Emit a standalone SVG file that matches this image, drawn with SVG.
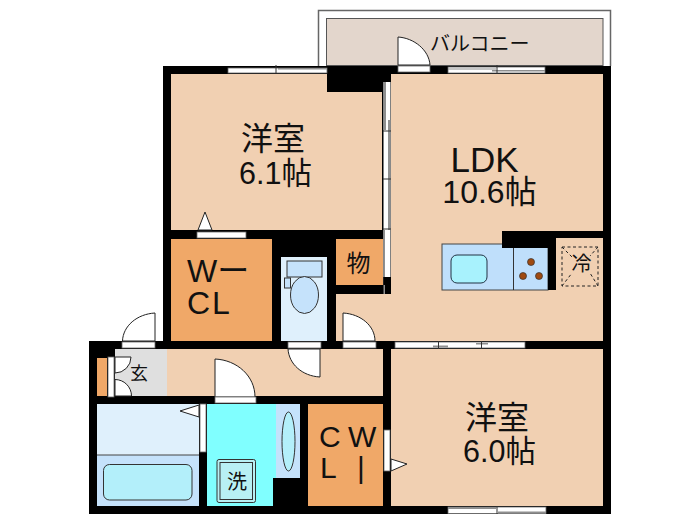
<svg xmlns="http://www.w3.org/2000/svg" width="700" height="525" viewBox="0 0 700 525">
<defs><style>
.t{font-family:"Liberation Sans","Noto Sans CJK JP",sans-serif;fill:#111}
.j{font-family:"Noto Sans CJK JP",sans-serif;fill:#111}
.wh{fill:#fff;stroke:#666;stroke-width:.8}
.d{fill:#fff;stroke:#222;stroke-width:1}
.room{fill:#f1d0b2}
.org{fill:#f0a868}
.blue{fill:#c5e2fb;stroke:#333;stroke-width:1}
.tick{stroke:#333;stroke-width:1;fill:none}
.gr{fill:#8f8f8f}
</style></defs>
<rect width="700" height="525" fill="#fff"/>
<g id="balcony">
<path d="M318.500 66V10.500H610.500V66" fill="none" stroke="#666" stroke-width="1.500"/>
<rect x="326.500" y="18.500" width="276.500" height="47" fill="#e3d6cc" stroke="#555"/>
</g>
<g id="walls">
<path d="M163 66H611V514H89V341H163Z" fill="#000"/>
</g>
<g id="room-west-top"><rect class="room" x="171" y="74" width="211" height="156"/><rect x="327" y="74" width="55" height="18" fill="#000"/></g>
<g id="ldk"><path class="room" d="M391 74H603V341H336V294H391Z"/></g>
<g id="wcl"><rect class="org" x="171" y="239" width="101" height="102"/></g>
<g id="toilet"><rect x="281" y="257" width="46" height="84" fill="#dff0fc"/>
<rect class="blue" x="287" y="261" width="35" height="16"/><rect class="blue" x="284.500" y="278" width="6" height="10"/><ellipse class="blue" cx="304.500" cy="295" rx="14" ry="18.500"/></g>
<g id="storage"><rect class="org" x="336" y="239" width="47" height="46"/></g>
<g id="hall"><rect class="room" x="167" y="349" width="216" height="47"/></g>
<g id="genkan"><rect x="115" y="349" width="52" height="47" fill="#dfdfdf"/><rect class="org" x="97" y="358" width="10" height="38"/></g>
<g id="bath"><rect x="97" y="404" width="102" height="51" fill="#dff0fc"/><rect x="97" y="455" width="102" height="51" fill="#c5e2fb"/><path d="M97 455H199" stroke="#444"/>
<rect x="103.500" y="464.500" width="88.500" height="35.500" rx="6" fill="#b3effa" stroke="#333"/></g>
<g id="washroom"><path d="M207 404H276V478H273V506H207Z" fill="#80ffff"/>
<rect x="217" y="459.500" width="38.500" height="43" rx="2" fill="#b8f0f4" stroke="#333"/><rect x="220" y="462.500" width="32.500" height="37" fill="#b8f0f4" stroke="#333"/></g>
<g id="basin"><rect x="276" y="404" width="24" height="74" fill="#c5e2fb"/><ellipse cx="288.500" cy="441.500" rx="6.500" ry="29.500" fill="#b3effa" stroke="#333"/></g>
<g id="cwl"><rect class="org" x="308" y="404" width="75" height="102"/></g>
<g id="room-east-bottom"><rect class="room" x="391" y="349" width="212" height="157"/></g>
<g id="kitchen">
<rect x="442" y="244" width="106" height="46" fill="#bfdffb" stroke="#444"/>
<rect x="502" y="231" width="101" height="7" fill="#000"/><rect x="502" y="231" width="54" height="17" fill="#000"/><rect x="548" y="238" width="8" height="52" fill="#000"/>
<path d="M513.500 248V290" stroke="#333"/>
<rect x="451" y="255" width="36" height="28" rx="6" fill="#a8f2fd" stroke="#234"/>
<circle cx="531" cy="262" r="3.500" fill="#a04a10" stroke="#333" stroke-width=".7"/><circle cx="523" cy="276" r="3.500" fill="#a04a10" stroke="#333" stroke-width=".7"/><circle cx="539" cy="276" r="3.500" fill="#a04a10" stroke="#333" stroke-width=".7"/>
<rect x="562" y="247" width="36" height="39" fill="none" stroke="#222" stroke-dasharray="3 2.500"/>
<path d="M562 247L572 257M598 247L590 256M562 286L572 273M598 286L590 273" stroke="#222" stroke-dasharray="3 2.500" fill="none"/>
</g>
<g id="connectors">
<rect class="wh" x="197" y="232" width="49" height="6"/>
<path class="d" d="M198 230L205 212L212 230Z"/>
<path class="d" d="M155 313V341H122.500C123 326 137 314 155 313Z"/><rect class="wh" x="122" y="342" width="33" height="6"/>
<path class="d" d="M343 313V341H375C375 326 361 314 343 313Z"/><rect class="wh" x="343" y="342" width="33" height="6"/>
<path class="d" d="M320 377V349H288C289 364 302 376 320 377Z"/><rect class="wh" x="288" y="342" width="33" height="6"/>
<path class="d" d="M215 359V397H255C255 376 237 360 215 359Z"/><rect class="wh" x="215" y="397" width="41" height="6"/>
<path class="d" d="M115 357H131A16 16 0 0 1 115 373ZM115 396H131.500A16.500 16.500 0 0 0 115 379.500Z" stroke-width=".8"/>
<rect class="wh" x="108" y="357" width="6" height="40"/>
<path class="d" d="M199 405V417L180 411Z"/><rect class="wh" x="200" y="404" width="6" height="48"/>
<rect class="wh" x="384" y="430" width="6" height="41"/>
<path class="d" d="M391 459V471L407 464Z"/>
<path class="d" d="M398 65V37C414 38 429 50 430 65Z"/><rect class="wh" x="398" y="66" width="32" height="6"/>
<rect class="wh" x="448" y="67" width="97" height="6"/><rect class="gr" x="492" y="70" width="53" height="1.500"/><rect class="gr" x="448" y="68.500" width="48" height="1"/><path class="tick" d="M497 65V74"/>
<rect class="wh" x="228" y="68" width="99" height="5"/><rect class="gr" x="278" y="68" width="49" height="1.500"/><path class="tick" d="M276 65V73"/>
<rect x="383.500" y="82" width="7" height="195" fill="#fff"/><rect class="gr" x="383.500" y="82" width="2.500" height="48"/><rect class="gr" x="388" y="120" width="2.500" height="110"/><rect class="gr" x="383.500" y="230" width="1.500" height="64"/>
<rect x="383.500" y="277" width="7" height="8" fill="#000"/>
<path class="tick" d="M383 131H391M383 179H391M383 229H391"/>
<rect class="wh" x="395" y="342" width="130" height="6"/><rect class="gr" x="433" y="345.500" width="15" height="2"/><rect class="gr" x="476" y="343" width="12" height="1.500"/><path class="tick" d="M438.500 341V349M481.500 341V349"/>
<rect class="wh" x="448" y="507" width="98" height="6.500"/><rect class="gr" x="448" y="507" width="48" height="2"/><rect class="gr" x="498" y="511.500" width="48" height="2"/><path class="tick" d="M497 506V514"/>
</g>
<g id="labels">
<text class="j" x="273" y="150" font-size="32" text-anchor="middle">洋室</text>
<text class="t" x="275.500" y="184" font-size="30.500" text-anchor="middle">6.1帖</text>
<text class="t" x="484.500" y="172" font-size="35" text-anchor="middle">LDK</text>
<text class="t" x="489.500" y="203" font-size="32" text-anchor="middle">10.6帖</text>
<text class="j" x="497" y="429" font-size="32" text-anchor="middle">洋室</text>
<text class="t" x="499.500" y="462" font-size="30.500" text-anchor="middle">6.0帖</text>
<text class="t" x="187" y="282" font-size="32">Wー</text>
<text class="t" x="187" y="314" font-size="32" letter-spacing="2">CL</text>
<text class="j" x="358.500" y="272" font-size="24" text-anchor="middle">物</text>
<text class="t" x="319" y="447" font-size="30">C</text><text class="t" x="348" y="447" font-size="30">W</text>
<text class="t" x="320" y="478" font-size="30">L</text><text class="t" x="357" y="478" font-size="30">|</text>
<text class="j" x="139" y="380" font-size="18" text-anchor="middle">玄</text>
<text class="j" x="237" y="489" font-size="20" text-anchor="middle">洗</text>
<text class="j" x="581.500" y="271" font-size="20" text-anchor="middle">冷</text>
<text class="j" x="430" y="51" font-size="20">バルコニー</text>
</g>
</svg>
